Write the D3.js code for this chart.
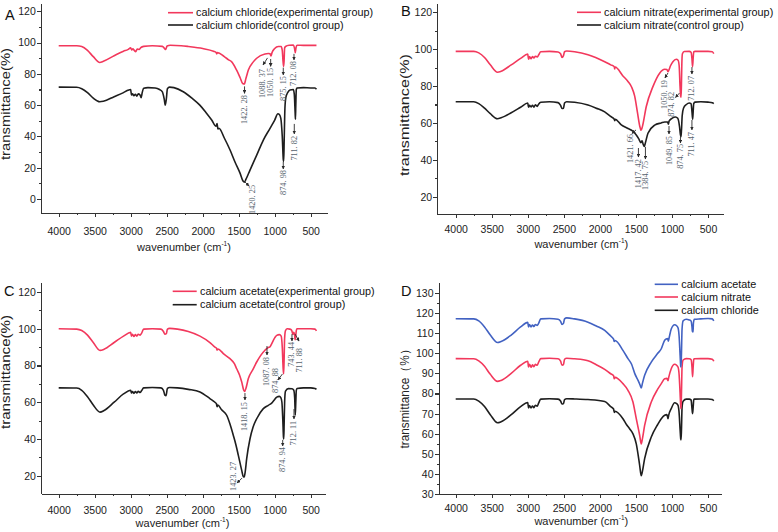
<!DOCTYPE html>
<html><head><meta charset="utf-8">
<script src="https://cdn.jsdelivr.net/npm/d3@7"></script>
<style>
body{margin:0;background:#fff}
svg{display:block}
.axis text{font-family:"Liberation Sans",Arial,sans-serif;font-size:10.5px;fill:#222}
.axis path,.axis line{stroke:#333;stroke-width:1.1;shape-rendering:crispEdges}
</style>
</head><body>
<svg id="chart" width="778" height="532"></svg>
<script>
// ---------------- DATA ----------------
const xTickVals = [4000,3500,3000,2500,2000,1500,1000,500];
const xMinorVals = [3750,3250,2750,2250,1750,1250,750];
const yTicksABC = [0,20,40,60,80,100,120];
const yMinorABC = [10,30,50,70,90,110];
const yTicksD = [30,40,50,60,70,80,90,100,110,120,130];
const yMinorD = [35,45,55,65,75,85,95,105,115,125];

const legendA = ["calcium chloride(experimental group)","calcium chloride(control group)"];
const legendB = ["calcium nitrate(experimental group)","calcium nitrate(control group)"];
const legendC = ["calcium acetate(experimental group)","calcium acetate(control group)"];
const legendD = ["calcium acetate","calcium nitrate","calcium chloride"];

// Panel A: calcium chloride
const chlorideExp = [[4000,98],[3750,98],[3680,97.5],[3600,95],[3520,91],[3430,87.3],[3380,88],[3230,91.6],[3100,94.5],[3040,95.5],[3000,96.6],[2985,95.3],[2970,96],[2950,95],[2930,94.2],[2910,95.8],[2880,95.6],[2860,96.8],[2820,97.6],[2700,98],[2560,97.6],[2530,96.2],[2515,95.6],[2495,97.8],[2450,98.3],[2300,98],[2200,97.5],[2000,96.2],[1850,94.5],[1815,93.8],[1805,92.8],[1795,93.6],[1700,91],[1640,89],[1600,87.8],[1530,82.5],[1480,77.5],[1445,73.8],[1422,73.5],[1400,77],[1366,82.5],[1300,87.5],[1250,90],[1135,92.7],[1088,93],[1065,92.8],[1050,91.5],[1038,93.5],[1000,96.2],[950,97.5],[910,97.5],[895,95],[884,88],[876,84.8],[870,88],[862,96.5],[850,97.5],[800,98.3],[740,98.4],[725,96.5],[714,93.6],[705,96.5],[690,98.3],[600,98.2],[500,98.2],[420,98.2]];
const chlorideCtrl = [[4000,71.5],[3750,71.4],[3680,70.5],[3600,68],[3520,64.5],[3430,62.2],[3380,62.5],[3230,65.4],[3100,68],[3040,69.5],[3000,70],[2990,66.5],[2975,67.2],[2955,66],[2935,67],[2915,65.8],[2895,67.2],[2870,66.5],[2855,64.8],[2840,68],[2820,70.8],[2760,71.2],[2660,71],[2600,70],[2560,68.5],[2535,64],[2520,60],[2505,64],[2490,70.5],[2460,71.5],[2400,71.2],[2270,68.6],[2150,64.5],[2040,60],[1950,55],[1875,50.5],[1815,46.5],[1800,48.3],[1790,44.8],[1775,45.2],[1700,39],[1620,31.3],[1550,23.5],[1480,16.4],[1440,11.5],[1420,10.8],[1400,12.5],[1343,18.5],[1250,28],[1158,37.7],[1065,45.2],[1000,50.5],[955,54.5],[935,54],[915,51.5],[895,40],[880,25],[875,24],[868,38],[858,58],[845,65],[820,68],[788,69.7],[742,70],[728,67],[716,55],[712,51],[707,60],[700,70],[690,71],[600,71.2],[500,71],[440,71],[420,70.2]];
const chlorideNotes = [
  {t:"1422. 28",x:1419,y:66.5,a:[[1419,72],[1419,67.5]]},
  {t:"1088. 37",x:1173,y:83.1,a:[[1100,90.2],[1162,85.7]]},
  {t:"1050. 15",x:1056,y:83.8,a:[[1056,89.5],[1056,84.8]]},
  {t:"875. 15",x:881,y:78.6,a:[[881,84],[881,79.3]]},
  {t:"712. 08",x:732,y:88.2,a:[[732,92.8],[732,88.9]]},
  {t:"1420. 25",x:1302,y:9,a:[[1426,11.5],[1357,8.3]]},
  {t:"874. 98",x:881,y:18.5,a:[[881,23.7],[881,19.2]]},
  {t:"711. 82",x:728,y:40.3,a:[[728,48],[728,41.6]]}
];

// Panel B: calcium nitrate
const nitrateExp = [[4000,98.8],[3750,98.8],[3680,98],[3600,95.5],[3520,91.5],[3420,87.5],[3370,88],[3230,91.5],[3100,95],[3000,97.3],[2990,94.5],[2975,96],[2955,94.8],[2935,96],[2915,95.2],[2895,96.2],[2870,95.8],[2850,96.8],[2820,98.6],[2700,98.8],[2580,98.5],[2545,97.5],[2525,95.5],[2505,96.5],[2490,98.6],[2460,99],[2350,98.6],[2165,97],[1933,93.2],[1850,91.5],[1800,90.5],[1795,89.3],[1788,90.3],[1680,85.5],[1610,82.5],[1560,79.5],[1517,74.5],[1480,66],[1448,58.5],[1428,56],[1410,58],[1357,68.8],[1264,79.7],[1171,87],[1101,89.1],[1070,89],[1056,87.8],[1045,88.5],[1020,91],[987,93.2],[940,94.5],[915,94],[900,91],[888,80],[879,74.5],[874,74],[869,80],[863,92],[855,97.5],[830,98.7],[760,98.8],[735,98.3],[723,95],[714,90.5],[706,95],[698,98.5],[680,98.8],[500,98.8],[440,98.6],[420,97.6]];
const nitrateCtrl = [[4000,71.5],[3750,71.5],[3680,70.5],[3600,68],[3520,65],[3420,62.3],[3370,62.8],[3230,65.5],[3100,68.5],[3000,70.8],[2990,68.5],[2975,69.5],[2955,68.7],[2935,69.6],[2915,68.6],[2895,69.8],[2870,69],[2850,70.2],[2820,71.2],[2700,71.5],[2580,71],[2545,69.5],[2525,67.8],[2505,68],[2490,70.8],[2460,71.5],[2350,71.2],[2165,69.7],[2050,68],[1933,66],[1850,63.5],[1800,62],[1795,61.2],[1788,62],[1703,58.9],[1610,57],[1541,55.5],[1495,53.5],[1462,51.5],[1430,49.3],[1415,50.3],[1400,48.5],[1384,47.3],[1370,49],[1333,54.4],[1240,58.8],[1150,60],[1100,60.5],[1060,60.5],[1050,59.3],[1040,61],[1000,62.5],[950,63.2],[920,62.5],[895,58],[882,53.5],[875,52.5],[868,56],[858,64],[840,68],[800,70],[760,70.8],[735,70.5],[722,66],[713,62],[706,66],[698,70.5],[680,71.3],[600,71.5],[500,71.3],[440,71],[420,70.5]];
const nitrateNotes = [
  {t:"1050. 19",x:1104,y:83.3,a:[[1055,87.1],[1097,84.4]]},
  {t:"874. 82",x:1007,y:76.8,a:[[896,76.2],[951,73.8]]},
  {t:"712. 07",x:723,y:85.5,a:[[723,90.3],[723,86.5]]},
  {t:"1421. 66",x:1569,y:54,a:[[1499,56.2],[1555,54.3]]},
  {t:"1417. 42",x:1465,y:40.4,a:[[1465,46.4],[1465,41.5]]},
  {t:"1384. 75",x:1368,y:39.4,a:[[1368,47],[1368,40.4]]},
  {t:"1049. 85",x:1041,y:52.9,a:[[1041,58.3],[1041,54]]},
  {t:"874. 75",x:882,y:48.6,a:[[882,52.6],[882,49.1]]},
  {t:"711. 47",x:723,y:55.1,a:[[723,61.6],[723,56.2]]}
];

// Panel C: calcium acetate
const acetateExp = [[4000,100],[3750,99.8],[3680,99],[3600,96.5],[3520,92.5],[3426,88.2],[3370,88.8],[3230,92.5],[3100,96],[3000,98],[2990,96],[2975,97],[2955,95.8],[2935,96.8],[2915,96],[2895,97],[2870,96.5],[2850,97.5],[2820,99.8],[2700,100],[2580,99.8],[2545,98.5],[2525,97],[2505,97.3],[2490,99.8],[2460,100.2],[2350,99.8],[2200,98.5],[2038,96],[1900,92.5],[1830,90],[1810,89.5],[1800,88.3],[1790,89],[1700,86],[1621,83.7],[1560,81],[1528,78.2],[1490,75],[1458,71],[1430,66.5],[1418,65.8],[1400,67.5],[1366,72.9],[1300,78],[1250,81.9],[1135,88.3],[1089,89.8],[1070,90],[1060,90.5],[1000,95],[972,96.4],[935,96.8],[910,96],[895,90],[882,78],[876,75.5],[870,82],[862,95],[850,99],[825,100],[790,99.8],[765,99.2],[750,97.3],[744,97],[738,98],[725,97],[716,94],[710,95],[700,99],[690,100],[600,100],[500,100],[440,99.8],[420,98.8]];
const acetateCtrl = [[4000,67.8],[3750,67.7],[3680,66.5],[3600,63],[3520,58.5],[3426,54.6],[3370,55.5],[3230,60],[3100,64.5],[3000,66.5],[2990,65],[2975,65.8],[2955,64.8],[2935,65.8],[2915,65],[2895,66],[2870,65.3],[2850,66.2],[2820,67.8],[2700,68],[2580,67.8],[2545,66.5],[2525,63.8],[2510,63.5],[2490,67.5],[2460,68],[2350,67.8],[2200,67],[2038,65.6],[1900,62],[1830,60],[1810,59.2],[1800,57.5],[1790,58.5],[1740,56],[1667,52.9],[1620,48],[1575,42],[1540,37],[1505,31.1],[1458,22.9],[1436,19.5],[1423,19.3],[1410,22],[1389,29.3],[1343,40.1],[1300,46.5],[1250,51],[1158,56.5],[1089,58.3],[1042,59.5],[1000,61.5],[972,62.8],[935,63.2],[915,62.5],[900,60],[887,50],[878,41],[874,40],[869,48],[860,62],[850,66],[811,67.4],[760,67.3],[735,66.5],[722,62],[714,53],[707,60],[700,66.5],[690,67.5],[600,67.8],[500,67.8],[440,67.5],[420,67]];
const acetateNotes = [
  {t:"1418. 15",x:1413,y:60.1,a:[[1413,65],[1413,61.2]]},
  {t:"1087. 08",x:1107,y:84.6,a:[[1107,90.6],[1107,85.7]]},
  {t:"874. 88",x:982,y:78.6,a:[[892,75.4],[954,72.1]]},
  {t:"743. 44",x:760,y:92.8,a:[[760,97.1],[760,93.3]]},
  {t:"711. 88",x:658,y:89.5,a:[[718,97.1],[662,93.3]]},
  {t:"1423. 27",x:1575,y:27.5,a:[[1454,18.7],[1523,16]]},
  {t:"874. 94",x:889,y:35.6,a:[[889,39.5],[889,36.2]]},
  {t:"712. 11",x:732,y:49.8,a:[[732,56.3],[732,50.9]]}
];

// Panel D: comparison of the three experimental groups
const compAcetate = [[4000,117.1],[3750,117],[3680,116],[3600,113],[3520,109],[3420,105.3],[3370,105.8],[3230,109],[3100,113],[3000,115.3],[2990,113],[2975,114.2],[2955,113],[2935,114],[2915,113.2],[2895,114.2],[2870,113.8],[2850,114.8],[2820,117],[2700,117.2],[2580,116.8],[2545,115.8],[2525,114.3],[2505,114.8],[2490,117],[2460,117.5],[2350,117],[2165,115.4],[2050,113.5],[1933,111.3],[1850,108.5],[1810,107],[1800,105.8],[1790,106.3],[1680,101.4],[1610,97.3],[1560,94.5],[1517,90],[1470,86.5],[1440,84],[1426,82.7],[1410,85],[1379,89],[1287,95.6],[1200,99.8],[1148,102.2],[1101,106.4],[1080,107],[1060,107.2],[1050,106],[1040,107.5],[1010,112],[963,114.1],[935,113.6],[915,112.5],[900,108],[887,99],[878,93.5],[874,93.2],[868,100],[860,112],[845,116],[802,116.8],[760,116.5],[735,116],[722,113],[716,110.6],[712,113],[708,110.5],[702,115],[690,116.8],[600,117],[500,117.2],[440,117],[420,116]];
const compNitrate = [[4000,97.3],[3750,97.2],[3680,96.2],[3600,93.5],[3520,89.5],[3420,86],[3370,86.5],[3230,90],[3100,94],[3000,96],[2990,93.2],[2975,94.5],[2955,93],[2935,94.2],[2915,93.3],[2895,94.5],[2870,94],[2850,95.5],[2820,97.3],[2700,97.5],[2580,97.2],[2545,96],[2525,94],[2505,94.3],[2490,97],[2460,97.5],[2350,97.2],[2165,96.2],[2050,94.3],[1933,92],[1850,89.8],[1810,88.8],[1800,87.3],[1790,88],[1680,84.9],[1610,81.6],[1541,75.8],[1495,67.5],[1448,59.3],[1426,55],[1410,57.5],[1379,64.2],[1287,75.8],[1200,82],[1148,84.9],[1101,87.3],[1070,87.5],[1055,86.3],[1045,88],[1010,92.3],[963,94.5],[935,94],[915,93],[900,89],[887,80],[878,73.5],[874,72.5],[868,80],[860,93],[845,96.6],[802,97.3],[760,97.2],[735,96.8],[722,93],[714,88.3],[706,93],[698,96.8],[690,97.2],[600,97.3],[500,97.3],[440,97],[420,96]];
const compChloride = [[4000,77.3],[3750,77.3],[3680,76.2],[3600,73.5],[3520,69.5],[3420,65.5],[3370,66],[3230,69.5],[3100,73.5],[3000,75.5],[2990,72.8],[2975,74],[2955,72.8],[2935,73.8],[2915,73],[2895,74.2],[2870,73.7],[2850,75.2],[2820,77.2],[2700,77.4],[2580,77.2],[2545,76.3],[2525,74.8],[2505,75],[2490,77],[2460,77.4],[2350,77.3],[2165,77],[1933,76],[1850,73.5],[1810,72.3],[1800,70.6],[1790,71.2],[1680,67.5],[1629,64.5],[1583,62.3],[1541,60],[1495,55],[1448,44.4],[1426,39.2],[1412,41],[1379,47.7],[1287,58.4],[1200,64.5],[1148,67.5],[1101,69.2],[1070,69.5],[1055,67.5],[1045,69.3],[1010,72.5],[963,75.4],[935,75],[915,74],[900,70],[887,62],[878,57.5],[874,57],[868,62],[860,73],[845,76.2],[802,77.2],[760,77.2],[735,76.8],[722,72.5],[714,70],[706,73],[698,76.8],[690,77.2],[600,77.3],[500,77.3],[440,77],[420,76.4]];

// ---------------- STYLE / LAYOUT ----------------
const RED = "#f2385c", BLACK = "#1e1e1e", BLUE = "#4262c2";
const SANS = '"Liberation Sans",Arial,sans-serif';
const SERIF = '"Liberation Serif","DejaVu Serif",serif';

const panels = [
  {letter:"A", lx:5, ly:19.5,
   xRef:[58.7,310.7], x0:41, x1:327, xPad:10.5,
   yRefVals:[120,0], yRefPx:[11.3,199], yTop:3, yBot:213,
   yTicks:yTicksABC, yMinor:yMinorABC,
   xt:{x:184, y:250.5}, yt:{x:9.5, y:104, len:112, text:"transmittance(%)"},
   curves:[{d:chlorideExp,c:RED},{d:chlorideCtrl,c:BLACK}],
   legend:{x0:168,x1:193,tx:196,ys:[12.7,25],labels:legendA,colors:[RED,BLACK]},
   notes:chlorideNotes},
  {letter:"B", lx:401, ly:15.5,
   xRef:[455.7,708], x0:437.3, x1:723, xPad:7.5,
   yRefVals:[120,20], yRefPx:[12.3,196.7], yTop:3, yBot:214,
   yTicks:yTicksABC.filter(v=>v>=20), yMinor:yMinorABC.filter(v=>v>=20),
   xt:{x:581.3, y:247.5}, yt:{x:409, y:115, len:122, text:"transmittance(%)"},
   curves:[{d:nitrateExp,c:RED},{d:nitrateCtrl,c:BLACK}],
   legend:{x0:577,x1:601,tx:604,ys:[12.3,25],labels:legendB,colors:[RED,BLACK]},
   notes:nitrateNotes},
  {letter:"C", lx:4, ly:295.5,
   xRef:[58.7,310.7], x0:41, x1:325, xPad:8.5,
   yRefVals:[120,20], yRefPx:[292,475.7], yTop:282.7, yBot:493.7,
   yTicks:yTicksABC.filter(v=>v>=20), yMinor:yMinorABC.filter(v=>v>=20),
   xt:{x:182.5, y:526.5}, yt:{x:10, y:372, len:114, text:"transmittance(%)"},
   curves:[{d:acetateExp,c:RED},{d:acetateCtrl,c:BLACK}],
   legend:{x0:172.7,x1:196.7,tx:200,ys:[291.3,304.7],labels:legendC,colors:[RED,BLACK]},
   notes:acetateNotes},
  {letter:"D", lx:401, ly:295.5,
   xRef:[455.7,708], x0:438.7, x1:721.3, xPad:6,
   yRefVals:[130,30], yRefPx:[292.7,494.3], yTop:282.7, yBot:494.3,
   yTicks:yTicksD, yMinor:yMinorD,
   xt:{x:581.3, y:524.5}, yt:{x:409, y:396, len:105, text:"transmittance\uFF08%\uFF09"},
   curves:[{d:compChloride,c:BLACK},{d:compNitrate,c:RED},{d:compAcetate,c:BLUE}],
   legend:{x0:654.7,x1:678,tx:681.3,ys:[284.3,297,310.3],labels:legendD,colors:[BLUE,RED,BLACK]},
   notes:[]}
];

const svg = d3.select("#chart");
svg.append("rect").attr("width",778).attr("height",532).attr("fill","#fff");
const defs = svg.append("defs");
defs.append("marker").attr("id","ah").attr("viewBox","0 0 10 10").attr("refX",9).attr("refY",5)
  .attr("markerWidth",4.2).attr("markerHeight",4.2).attr("orient","auto-start-reverse")
  .append("path").attr("d","M0,0L10,5L0,10z").attr("fill","#2a2a2a");

panels.forEach(p => {
  const g = svg.append("g");
  const xs0 = d3.scaleLinear().domain([4000,500]).range(p.xRef);
  const x = d3.scaleLinear().domain([xs0.invert(p.x0), xs0.invert(p.x1)]).range([p.x0,p.x1]);
  const ys0 = d3.scaleLinear().domain(p.yRefVals).range(p.yRefPx);
  const y = d3.scaleLinear().domain([ys0.invert(p.yBot), ys0.invert(p.yTop)]).range([p.yBot,p.yTop]);

  // axes
  g.append("g").attr("class","axis").attr("transform",`translate(0,${p.yBot})`)
    .call(d3.axisBottom(x).tickValues(xTickVals).tickSize(4).tickSizeOuter(0).tickPadding(p.xPad).tickFormat(d3.format("d")));
  g.append("g").attr("class","axis").attr("transform",`translate(0,${p.yBot})`)
    .call(d3.axisBottom(x).tickValues(xMinorVals).tickSize(2).tickFormat(""))
    .call(s=>s.select(".domain").remove());
  g.append("g").attr("class","axis").attr("transform",`translate(${p.x0},0)`)
    .call(d3.axisLeft(y).tickValues(p.yTicks).tickSize(4).tickSizeOuter(0).tickPadding(1.2).tickFormat(d3.format("d")));
  g.append("g").attr("class","axis").attr("transform",`translate(${p.x0},0)`)
    .call(d3.axisLeft(y).tickValues(p.yMinor).tickSize(2).tickFormat(""))
    .call(s=>s.select(".domain").remove());

  // axis titles
  const xt = g.append("text").attr("x",p.xt.x).attr("y",p.xt.y).attr("text-anchor","middle")
    .attr("font-family",SANS).attr("font-size",11).attr("fill","#222");
  xt.append("tspan").text("wavenumber (cm");
  xt.append("tspan").attr("font-size",6.5).attr("dy",-4.5).text("-1");
  xt.append("tspan").attr("dy",4.5).text(")");
  g.append("text").attr("transform",`translate(${p.yt.x},${p.yt.y}) rotate(-90)`)
    .attr("text-anchor","middle").attr("font-family",SANS).attr("font-size",12).attr("fill","#222")
    .attr("textLength",p.yt.len).attr("lengthAdjust","spacingAndGlyphs").text(p.yt.text);

  // panel letter
  g.append("text").attr("x",p.lx).attr("y",p.ly).attr("font-family",SANS).attr("font-size",14.5)
    .attr("fill","#111").text(p.letter);

  // curves
  const line = d3.line().x(d=>x(d[0])).y(d=>y(d[1])).curve(d3.curveMonotoneX);
  p.curves.forEach(c => {
    g.append("path").datum(c.d).attr("d",line).attr("fill","none").attr("stroke",c.c)
      .attr("stroke-width",1.6).attr("stroke-linejoin","round");
  });

  // legend
  p.legend.labels.forEach((lab,i) => {
    const ly = p.legend.ys[i];
    g.append("line").attr("x1",p.legend.x0).attr("x2",p.legend.x1).attr("y1",ly).attr("y2",ly)
      .attr("stroke",p.legend.colors[i]).attr("stroke-width",1.6);
    g.append("text").attr("x",p.legend.tx).attr("y",ly).attr("dy","0.34em")
      .attr("font-family",SANS).attr("font-size",10.8).attr("fill","#111").text(lab);
  });

  // peak annotations
  p.notes.forEach(n => {
    g.append("line").attr("x1",x(n.a[0][0])).attr("y1",y(n.a[0][1]))
      .attr("x2",x(n.a[1][0])).attr("y2",y(n.a[1][1]))
      .attr("stroke","#2a2a2a").attr("stroke-width",0.9).attr("marker-end","url(#ah)");
    g.append("text").attr("transform",`translate(${x(n.x)},${y(n.y)}) rotate(-90)`)
      .attr("text-anchor","end").attr("dominant-baseline","central")
      .attr("font-family",SERIF).attr("font-size",8.3).attr("fill","#56626e").text(n.t);
  });
});
</script>
</body></html>
